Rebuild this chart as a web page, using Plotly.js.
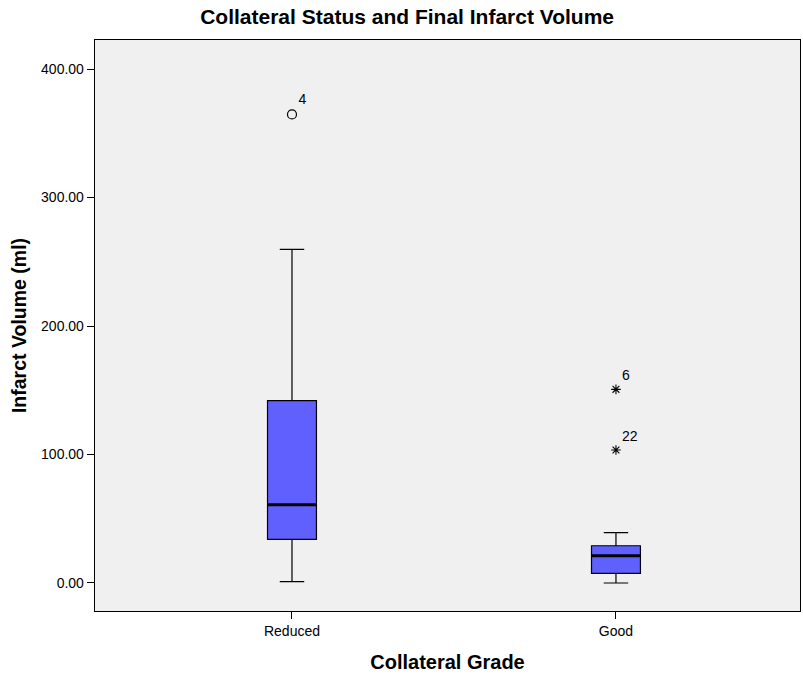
<!DOCTYPE html>
<html>
<head>
<meta charset="utf-8">
<script src="https://cdn.plot.ly/plotly-3.0.1.min.js"></script>
<style>
  html, body { margin: 0; padding: 0; background: #ffffff; }
  #chart { width: 803px; height: 677px; }
</style>
</head>
<body>
<div id="chart"></div>
<script>
// Collateral grade groups and their box-plot summaries (ml)
const categories = ["Reduced", "Good"];
const lowerWhisker = [1.0, 0.0];
const q1Values = [34.0, 7.5];
const medianValues = [60.9, 21.2];
const q3Values = [141.9, 29.0];
const upperWhisker = [259.7, 39.2];

// Outlying cases: group index, value, case label
const outlierGroup = [0];
const outlierValues = [364.7];
const outlierLabels = ["4"];

// Extreme cases
const extremeGroup = [1, 1];
const extremeValues = [150.7, 103.5];
const extremeLabels = ["6", "22"];

const yTicks = [0, 100, 200, 300, 400];

const xPos = categories.map((_, i) => i);
const boxWidth = 0.151;
const boxFill = "#6060ff";

const traces = [];

categories.forEach((cat, i) => {
  traces.push({
    type: "box",
    name: cat,
    x: [xPos[i]],
    q1: [q1Values[i]],
    median: [medianValues[i]],
    q3: [q3Values[i]],
    lowerfence: [lowerWhisker[i]],
    upperfence: [upperWhisker[i]],
    width: boxWidth,
    whiskerwidth: 0.5,
    fillcolor: boxFill,
    line: { color: "#000000", width: 1.2 },
    boxpoints: false,
    hoverinfo: "skip",
    showlegend: false
  });
});

// Heavier median bars drawn over each box
const medX = [], medY = [];
xPos.forEach((x, i) => {
  medX.push(x - boxWidth / 2, x + boxWidth / 2, null);
  medY.push(medianValues[i], medianValues[i], null);
});
traces.push({
  type: "scatter", mode: "lines",
  x: medX, y: medY,
  line: { color: "#000000", width: 3 },
  hoverinfo: "skip", showlegend: false
});

const font = "Arial, Liberation Sans, sans-serif";
const labelFont = { family: font, size: 14, color: "#000000" };

// Outliers: open circles
traces.push({
  type: "scatter", mode: "markers+text",
  x: outlierGroup.map(g => xPos[g]),
  y: outlierValues,
  text: outlierLabels,
  textposition: "top right",
  textfont: labelFont,
  marker: { symbol: "circle-open", size: 9, color: "#000000", line: { width: 1.2, color: "#000000" } },
  hoverinfo: "skip", showlegend: false
});

// Extremes: asterisks
traces.push({
  type: "scatter", mode: "markers+text",
  x: extremeGroup.map(g => xPos[g]),
  y: extremeValues,
  text: extremeLabels,
  textposition: "top right",
  textfont: labelFont,
  marker: { symbol: "asterisk-open", size: 8, color: "#000000", line: { width: 1.1, color: "#000000" } },
  hoverinfo: "skip", showlegend: false
});

const layout = {
  width: 803,
  height: 677,
  margin: { l: 95, r: 3, t: 40, b: 66 },
  paper_bgcolor: "#ffffff",
  plot_bgcolor: "#f0f0f0",
  font: { family: font, size: 14, color: "#000000" },
  title: {
    text: "<b>Collateral Status and Final Infarct Volume</b>",
    font: { family: font, size: 21, color: "#000000" },
    x: 0.507, xanchor: "center",
    y: 0.975, yanchor: "middle"
  },
  xaxis: {
    range: [-0.608, 1.568],
    tickvals: xPos,
    ticktext: categories,
    ticks: "outside", ticklen: 7, tickcolor: "#000000", tickwidth: 1,
    showline: true, linecolor: "#000000", linewidth: 1.3, mirror: true,
    showgrid: false, zeroline: false,
    tickfont: { family: font, size: 14, color: "#000000" },
    title: {
      text: "<b>Collateral Grade</b>",
      font: { family: font, size: 20, color: "#000000" },
      standoff: 17
    }
  },
  yaxis: {
    range: [-21.8, 422.6],
    tickvals: yTicks,
    tickformat: ".2f",
    ticks: "outside", ticklen: 7, tickcolor: "#000000", tickwidth: 1,
    showline: true, linecolor: "#000000", linewidth: 1.3, mirror: true,
    showgrid: false, zeroline: false,
    tickfont: { family: font, size: 14, color: "#000000" },
    title: {
      text: "<b>Infarct Volume (ml)</b>",
      font: { family: font, size: 19.5, color: "#000000" },
      standoff: 9
    }
  }
};

Plotly.newPlot("chart", traces, layout, { displayModeBar: false, staticPlot: true });
</script>
</body>
</html>
